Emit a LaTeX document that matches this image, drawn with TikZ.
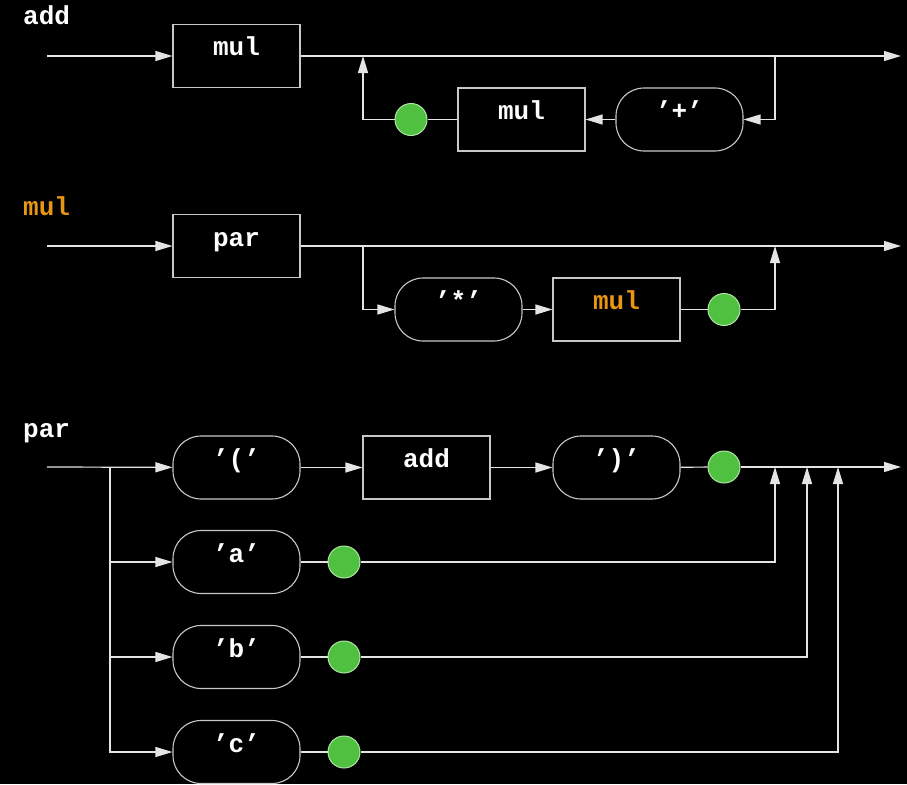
\documentclass[tikz,border=0pt]{standalone}
\usepackage{fontspec}
\setmonofont{Liberation Mono}
\usetikzlibrary{arrows.meta}

\definecolor{rulecol}{RGB}{232,150,20}
\definecolor{dotgreen}{RGB}{80,192,64}
\definecolor{dotrim}{RGB}{175,230,165}
\definecolor{wirecol}{RGB}{228,228,228}
\definecolor{framecol}{RGB}{200,200,200}

\tikzstyle{block} = [rectangle, draw=framecol, line width=1.1pt, minimum width=127pt, minimum height=63pt, inner sep=0pt, text=white, text height=21pt, text depth=21pt, font=\ttfamily\bfseries\fontsize{26}{26}\selectfont]
\tikzstyle{term} = [block, rounded corners=28pt]
\tikzstyle{dot} = [circle, fill=dotgreen, draw=dotrim, line width=1pt, minimum size=32pt, inner sep=0pt]
\tikzstyle{plain} = [draw=wirecol, line width=1.2pt]
\tikzstyle{line} = [plain, -{Triangle[length=17pt,width=10pt]}]
\tikzstyle{title} = [anchor=base west, inner sep=0pt, text=white, font=\ttfamily\bfseries\fontsize{26}{26}\selectfont]

\begin{document}
\begin{tikzpicture}[x=1pt, y=-1pt]

    % background
    \fill[black] (0,0) rectangle (907,784);
    \useasboundingbox (0,0) rectangle (907,784);

    % add rule
    \node [title] (tadd) at (23,25) {add};
    \coordinate (s1) at (47,56);
    \node [block] (mul1) at (236.5,56) {mul};
    \coordinate (e1) at (901,56);
    \coordinate (j1) at (775,56);
    \coordinate (k1) at (363,56);
    \node [term] (plus) at (679.5,119.5) {’+’};
    \node [block] (mul2) at (521.5,119.5) {mul};
    \node [dot] (d1) at (411,119.5) {};

    \path[line] (s1) -- (mul1);
    \path[line] (mul1) -- (e1);
    \path[line] (j1) |- (plus);
    \path[line] (plus) -- (mul2);
    \path[plain] (mul2) -- (d1);
    \path[line] (d1) -| (k1);

    % mul rule
    \node [title, text=rulecol] (tmul) at (23,215) {mul};
    \coordinate (s2) at (47,246);
    \node [block] (par1) at (236.5,246) {par};
    \coordinate (e2) at (901,246);
    \coordinate (j2) at (363,246);
    \coordinate (k2) at (775,246);
    \node [term] (star) at (458.5,309.5) {’*’};
    \node [block, text=rulecol] (mul3) at (616.5,309.5) {mul};
    \node [dot] (d2) at (724,309.5) {};

    \path[line] (s2) -- (par1);
    \path[line] (par1) -- (e2);
    \path[line] (j2) |- (star);
    \path[line] (star) -- (mul3);
    \path[plain] (mul3) -- (d2);
    \path[line] (d2) -| (k2);

    % par rule
    \node [title] (tpar) at (23,437) {par};
    \coordinate (s3) at (47,467);
    \coordinate (f3) at (110,467);
    \node [term] (lp) at (236.5,467.5) {’(’};
    \node [block] (add1) at (426.5,467.5) {add};
    \node [term] (rp) at (616.5,467.5) {’)’};
    \node [dot] (d3) at (724,467) {};
    \coordinate (e3) at (901,467);

    \path[line] (s3) -- (lp);
    \path[line] (lp) -- (add1);
    \path[line] (add1) -- (rp);
    \path[plain] (rp) -- (d3);
    \path[line] (d3) -- (e3);

    % alternatives
    \foreach \t/\y/\x in {a/562/775, b/657/807, c/752/838} {
        \node [term] (t\t) at (236.5,\y) {’\t’};
        \node [dot] (d\t) at (344,\y) {};
        \coordinate (k\t) at (\x,467);
        \path[line] (f3) |- (t\t);
        \path[plain] (t\t) -- (d\t);
        \path[line] (d\t) -| (k\t);
    }

\end{tikzpicture}
\end{document}
